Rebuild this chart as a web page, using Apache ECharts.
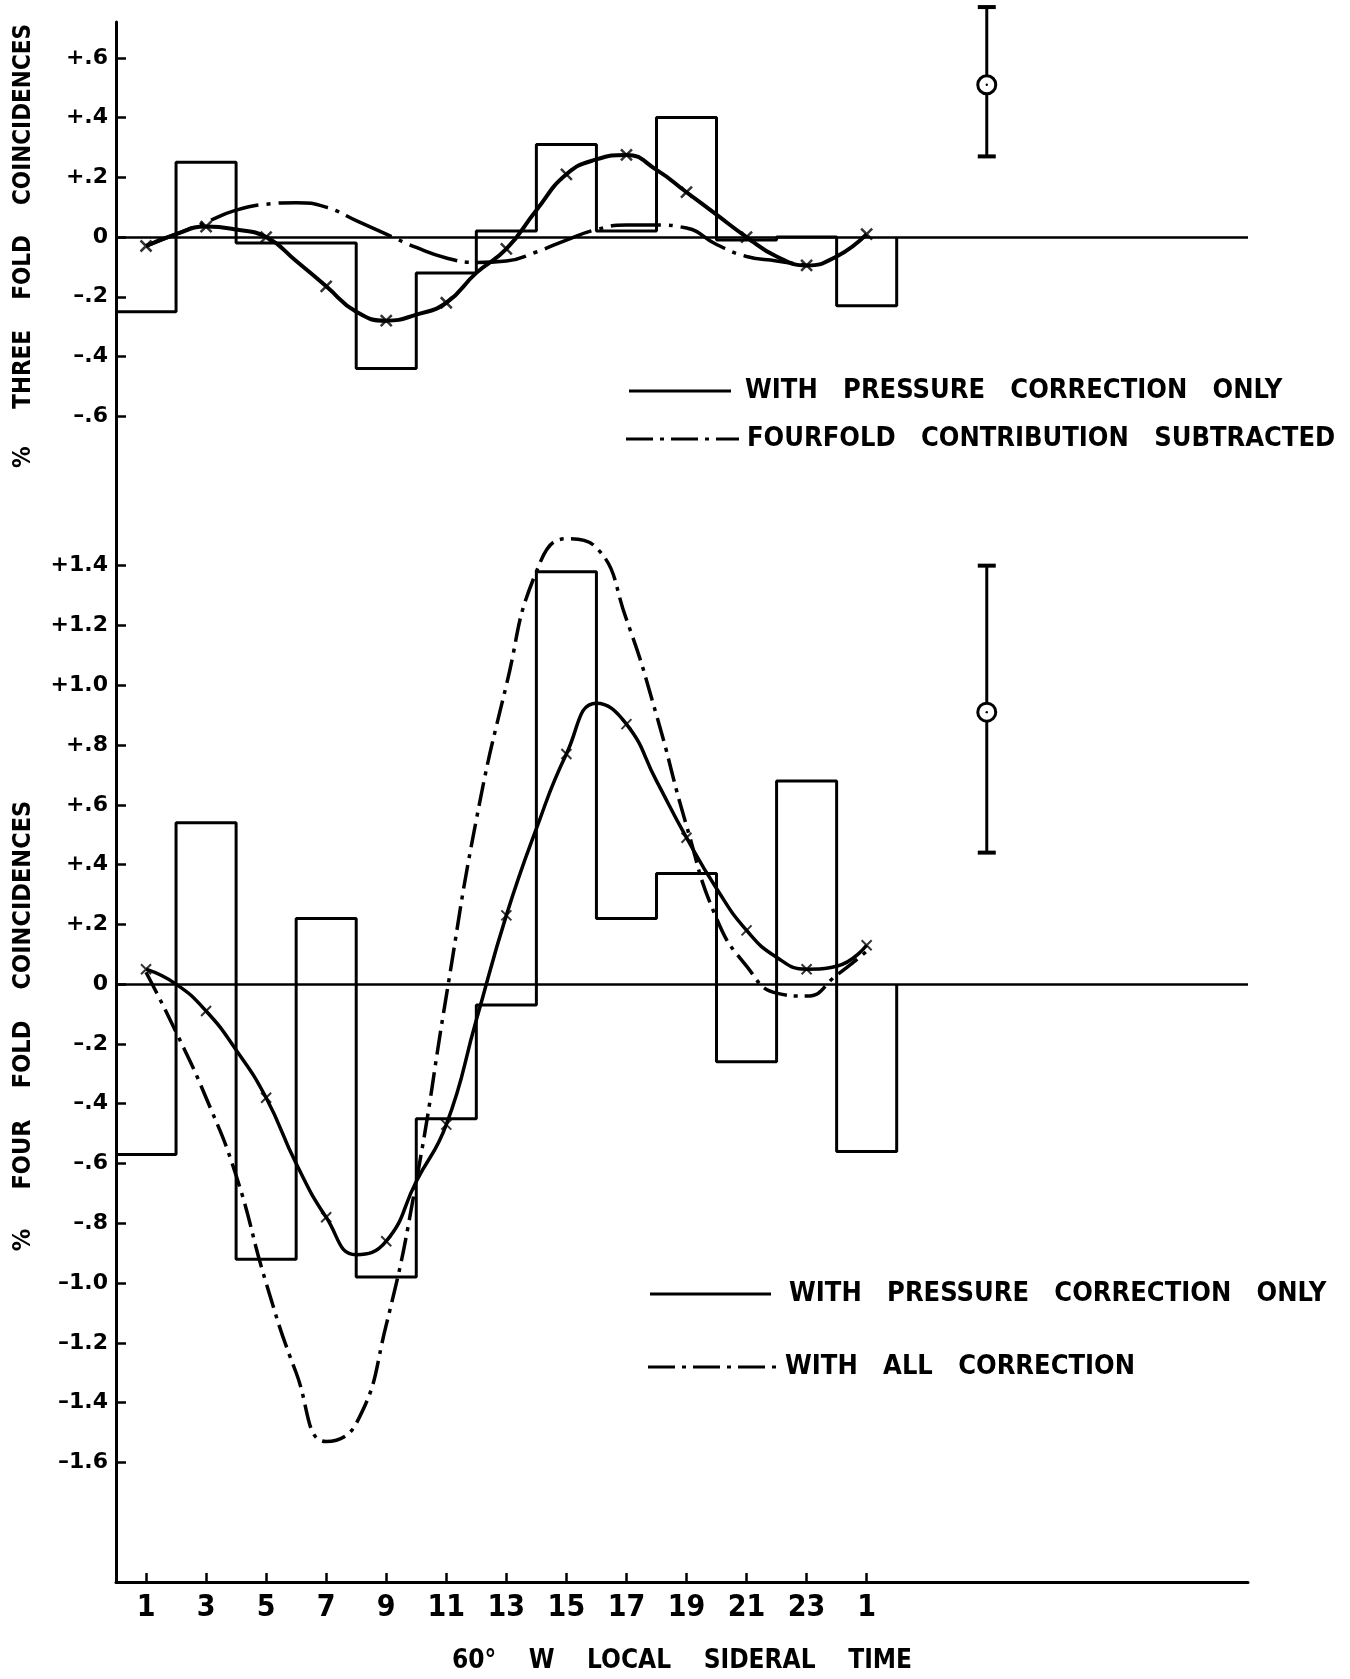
<!DOCTYPE html>
<html><head><meta charset="utf-8">
<script src="https://cdn.jsdelivr.net/npm/echarts@6/dist/echarts.min.js"></script>
<style>html,body{margin:0;padding:0;background:#fff}#c{width:1350px;height:1679px}</style>
</head><body><div id="c"></div>
<script>
// ---------------- data ----------------
// histogram bins: 2-hour bins, edges in sidereal hours (bin centred on odd hours 1..25)
const binEdges = [0, 2, 4, 6, 8, 10, 12, 14, 16, 18, 20, 22, 24, 26];
const threeFoldBins = [-0.25, 0.25, -0.02, -0.02, -0.44, -0.12, 0.02, 0.31, 0.02, 0.40, -0.01, 0.00, -0.23];
const fourFoldBins  = [-0.57, 0.54, -0.92, 0.22, -0.98, -0.45, -0.07, 1.38, 0.22, 0.37, -0.26, 0.68, -0.56];

// smooth curves, read at every hour
const curveHours = [1,2,3,4,5,6,7,8,9,10,11,12,13,14,15,16,17,18,19,20,21,22,23,24,25];
const threePressure = [-0.03, 0.01, 0.035, 0.025, 0.00, -0.08, -0.165, -0.25, -0.28, -0.26, -0.22, -0.12, -0.04,
                       0.09, 0.21, 0.26, 0.275, 0.225, 0.15, 0.075, 0.00, -0.065, -0.095, -0.065, 0.01];
const threeFourfoldSubHours = [1,2,3,4,5,6,7,8,9,10,11,12,13,14,15,16,17,18,19,20,21,22,23];
const threeFourfoldSub = [-0.03, 0.01, 0.05, 0.09, 0.11, 0.115, 0.10, 0.055, 0.01, -0.035, -0.07, -0.085, -0.08,
                          -0.05, -0.01, 0.025, 0.04, 0.04, 0.03, -0.025, -0.065, -0.08, -0.095];
const fourPressure = [0.05, 0.00, -0.09, -0.22, -0.38, -0.60, -0.78, -0.905, -0.86, -0.66, -0.47, -0.12, 0.23,
                      0.52, 0.77, 0.94, 0.87, 0.68, 0.49, 0.32, 0.18, 0.09, 0.05, 0.06, 0.13];
const fourAllCorr = [0.04, -0.16, -0.38, -0.64, -1.00, -1.30, -1.53, -1.47, -1.14, -0.66, -0.04, 0.55, 1.00,
                     1.38, 1.49, 1.46, 1.22, 0.90, 0.53, 0.22, 0.06, -0.03, -0.04, 0.03, 0.11];

// error bars: [hour, low, centre, high]
const threeErrorBar = [29, 0.27, 0.51, 0.77];
const fourErrorBar  = [29, 0.44, 0.91, 1.40];

// axis ticks
const xTickHours  = [1, 3, 5, 7, 9, 11, 13, 15, 17, 19, 21, 23, 25];
const xTickLabels = ['1', '3', '5', '7', '9', '11', '13', '15', '17', '19', '21', '23', '1'];
const topTickValues = [-0.6, -0.4, -0.2, 0, 0.2, 0.4, 0.6];
const topTickLabels = ['\u2013.6', '\u2013.4', '\u2013.2', '0', '+.2', '+.4', '+.6'];
const botTickValues = [-1.6, -1.4, -1.2, -1.0, -0.8, -0.6, -0.4, -0.2, 0, 0.2, 0.4, 0.6, 0.8, 1.0, 1.2, 1.4];
const botTickLabels = ['\u20131.6', '\u20131.4', '\u20131.2', '\u20131.0', '\u2013.8', '\u2013.6', '\u2013.4', '\u2013.2', '0',
                       '+.2', '+.4', '+.6', '+.8', '+1.0', '+1.2', '+1.4'];

// ---------------- chart ----------------
const FONT = '"DejaVu Sans Condensed", "DejaVu Sans", sans-serif';
const NARROW = '"Liberation Sans Narrow", "DejaVu Sans Condensed", "DejaVu Sans", sans-serif';
const BLACK = '#000';

function lookup(values, labels) {
  return function (v) {
    for (let i = 0; i < values.length; i++) if (Math.abs(values[i] - v) < 1e-6) return labels[i];
    return '';
  };
}
const stepData = bins => bins.map((v, i) => [binEdges[i], v]).concat([[binEdges[bins.length], 0]]);
const pairs = (hours, vals) => vals.map((v, i) => [hours[i], v]);
const markers = (hours, vals) => pairs(hours, vals).filter(p => xTickHours.indexOf(p[0]) >= 0);
const X_MARK = 'path://M0,0L10,10M10,0L0,10';

function errRender(params, api) {
  const x = api.value(0);
  const pLo = api.coord([x, api.value(1)]);
  const pMid = api.coord([x, api.value(2)]);
  const pHi = api.coord([x, api.value(3)]);
  const r = 9, cap = 9;
  const st = { stroke: BLACK, lineWidth: 3, fill: null };
  return {
    type: 'group', children: [
      { type: 'line', shape: { x1: pHi[0], y1: pHi[1], x2: pMid[0], y2: pMid[1] - r }, style: st },
      { type: 'line', shape: { x1: pMid[0], y1: pMid[1] + r, x2: pLo[0], y2: pLo[1] }, style: st },
      { type: 'line', shape: { x1: pHi[0] - cap, y1: pHi[1], x2: pHi[0] + cap, y2: pHi[1] }, style: { stroke: BLACK, lineWidth: 4 } },
      { type: 'line', shape: { x1: pLo[0] - cap, y1: pLo[1], x2: pLo[0] + cap, y2: pLo[1] }, style: { stroke: BLACK, lineWidth: 4 } },
      { type: 'circle', shape: { cx: pMid[0], cy: pMid[1], r: r }, style: { stroke: BLACK, lineWidth: 3, fill: '#fff' } },
      { type: 'circle', shape: { cx: pMid[0], cy: pMid[1], r: 1.2 }, style: { fill: BLACK } }
    ]
  };
}

const yLabelStyle = { color: BLACK, fontSize: 22, fontWeight: 'bold', fontFamily: '"DejaVu Sans", sans-serif', margin: 8 };
const zeroLine = {
  silent: true, symbol: 'none', label: { show: false },
  lineStyle: { color: BLACK, width: 2.5, type: 'solid' }, data: [{ yAxis: 0 }]
};

function legendRow(x1, x2, y, textX, text, dash) {
  return [
    { type: 'line', shape: { x1: x1, y1: y, x2: x2, y2: y },
      style: { stroke: BLACK, lineWidth: 3, lineDash: dash || null } },
    { type: 'text', x: textX, y: y,
      style: { text: text, fill: BLACK, fontSize: 27, fontWeight: 'bold', fontFamily: FONT,
               align: 'left', verticalAlign: 'middle', textAlign: 'left', textVerticalAlign: 'middle' } }
  ];
}
const SP = '   ';
const SP4 = '    ';
const DASHDOT = [27, 7, 4, 7];

const option = {
  animation: false,
  backgroundColor: '#fff',
  grid: [
    { left: 116, top: 22, width: 1132, height: 448 },
    { left: 116, top: 470, width: 1132, height: 1112 }
  ],
  xAxis: [
    { gridIndex: 0, type: 'value', min: 0, max: 37.7, show: false },
    { gridIndex: 1, type: 'value', min: 0, max: 37.7,
      name: '60\u00B0' + SP4 + 'W' + SP4 + 'LOCAL' + SP4 + 'SIDERAL' + SP4 + 'TIME',
      nameLocation: 'middle', nameGap: 66,
      nameTextStyle: { color: BLACK, fontSize: 26, fontWeight: 'bold', fontFamily: FONT },
      axisLine: { onZero: false, lineStyle: { color: BLACK, width: 3 } },
      axisTick: { inside: true, length: 9, lineStyle: { color: BLACK, width: 2.5 }, customValues: xTickHours },
      axisLabel: { color: BLACK, fontSize: 30, fontWeight: 'bold', fontFamily: NARROW, margin: 11,
                   customValues: xTickHours, formatter: lookup(xTickHours, xTickLabels) },
      splitLine: { show: false } }
  ],
  yAxis: [
    { gridIndex: 0, type: 'value', min: -0.78, max: 0.72,
      name: '%' + SP4 + ' THREE' + SP4 + 'FOLD' + SP4 + 'COINCIDENCES',
      nameLocation: 'middle', nameRotate: 90, nameGap: 80,
      nameTextStyle: { color: BLACK, fontSize: 24, fontWeight: 'bold', fontFamily: FONT },
      axisLine: { lineStyle: { color: BLACK, width: 3 } },
      axisTick: { inside: true, length: 10, lineStyle: { color: BLACK, width: 2.5 }, customValues: topTickValues },
      axisLabel: Object.assign({ customValues: topTickValues, formatter: lookup(topTickValues, topTickLabels) }, yLabelStyle),
      splitLine: { show: false } },
    { gridIndex: 1, type: 'value', min: -2.0, max: 1.72,
      name: '%' + SP4 + ' FOUR' + SP4 + 'FOLD' + SP4 + 'COINCIDENCES',
      nameLocation: 'middle', nameRotate: 90, nameGap: 80,
      nameTextStyle: { color: BLACK, fontSize: 25, fontWeight: 'bold', fontFamily: FONT },
      axisLine: { lineStyle: { color: BLACK, width: 3 } },
      axisTick: { inside: true, length: 10, lineStyle: { color: BLACK, width: 2.5 }, customValues: botTickValues },
      axisLabel: Object.assign({ customValues: botTickValues, formatter: lookup(botTickValues, botTickLabels) }, yLabelStyle),
      splitLine: { show: false } }
  ],
  series: [
    // ----- top panel -----
    { name: 'three fold histogram', type: 'line', xAxisIndex: 0, yAxisIndex: 0, step: 'end',
      data: stepData(threeFoldBins), symbol: 'none', lineStyle: { color: BLACK, width: 3 }, markLine: zeroLine, z: 2 },
    { name: 'WITH PRESSURE CORRECTION ONLY', type: 'line', xAxisIndex: 0, yAxisIndex: 0, smooth: 0.5,
      data: pairs(curveHours, threePressure), symbol: 'none', lineStyle: { color: BLACK, width: 4 }, z: 3 },
    { name: 'three markers', type: 'scatter', xAxisIndex: 0, yAxisIndex: 0, data: markers(curveHours, threePressure),
      symbol: X_MARK, symbolSize: 11, itemStyle: { color: BLACK, borderColor: BLACK, borderWidth: 2.5 }, z: 4 },
    { name: 'FOURFOLD CONTRIBUTION SUBTRACTED', type: 'line', xAxisIndex: 0, yAxisIndex: 0, smooth: 0.5,
      data: pairs(threeFourfoldSubHours, threeFourfoldSub), symbol: 'none',
      lineStyle: { color: BLACK, width: 3.5, type: [50, 8, 4, 8] }, z: 3 },
    { name: 'three error', type: 'custom', xAxisIndex: 0, yAxisIndex: 0, clip: false, renderItem: errRender,
      encode: { x: 0, y: [1, 2, 3] }, data: [threeErrorBar], z: 5 },
    // ----- bottom panel -----
    { name: 'four fold histogram', type: 'line', xAxisIndex: 1, yAxisIndex: 1, step: 'end',
      data: stepData(fourFoldBins), symbol: 'none', lineStyle: { color: BLACK, width: 3 }, markLine: zeroLine, z: 2 },
    { name: 'WITH PRESSURE CORRECTION ONLY ', type: 'line', xAxisIndex: 1, yAxisIndex: 1, smooth: 0.5,
      data: pairs(curveHours, fourPressure), symbol: 'none', lineStyle: { color: BLACK, width: 3.5 }, z: 3 },
    { name: 'four markers', type: 'scatter', xAxisIndex: 1, yAxisIndex: 1, data: markers(curveHours, fourPressure),
      symbol: X_MARK, symbolSize: 10, itemStyle: { color: BLACK, borderColor: BLACK, borderWidth: 2 }, z: 4 },
    { name: 'WITH ALL CORRECTION', type: 'line', xAxisIndex: 1, yAxisIndex: 1, smooth: 0.5,
      data: pairs(curveHours, fourAllCorr), symbol: 'none',
      lineStyle: { color: BLACK, width: 3.5, type: [24, 7, 4, 7] }, z: 3 },
    { name: 'four error', type: 'custom', xAxisIndex: 1, yAxisIndex: 1, clip: false, renderItem: errRender,
      encode: { x: 0, y: [1, 2, 3] }, data: [fourErrorBar], z: 5 }
  ],
  graphic: [].concat(
    legendRow(629, 731, 391, 745, 'WITH' + SP + 'PRESSURE' + SP + 'CORRECTION' + SP + 'ONLY'),
    legendRow(626, 739, 439, 747, 'FOURFOLD' + SP + 'CONTRIBUTION' + SP + 'SUBTRACTED', DASHDOT),
    legendRow(650, 771, 1294, 789, 'WITH' + SP + 'PRESSURE' + SP + 'CORRECTION' + SP + 'ONLY'),
    legendRow(648, 776, 1367, 785, 'WITH' + SP + 'ALL' + SP + 'CORRECTION', DASHDOT)
  )
};

const chart = echarts.init(document.getElementById('c'));
chart.setOption(option);
</script>
</body></html>
